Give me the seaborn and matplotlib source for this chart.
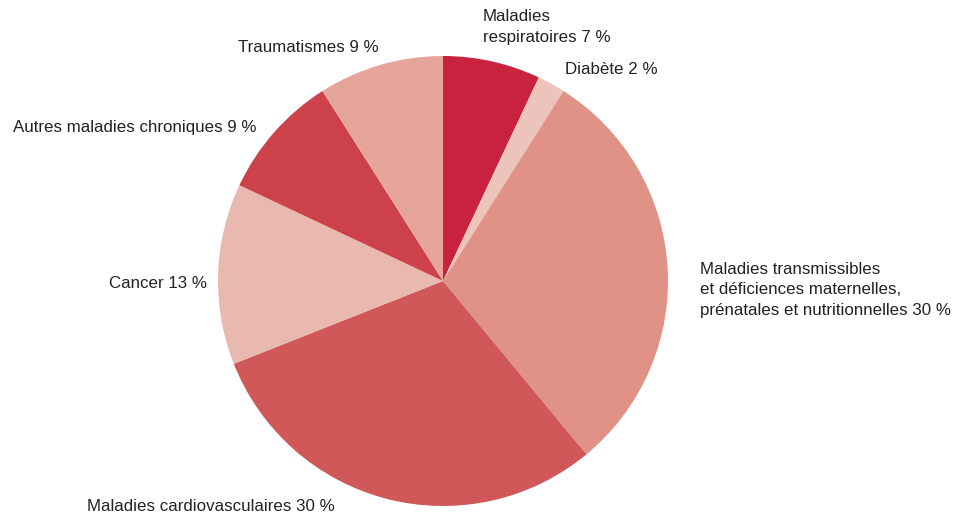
import matplotlib
matplotlib.use("Agg")
import matplotlib.pyplot as plt
import seaborn as sns

# Causes of death, share in percent (clockwise from the top)
categories = [
    "Maladies\nrespiratoires",
    "Diabète",
    "Maladies transmissibles\net déficiences maternelles,\nprénatales et nutritionnelles",
    "Maladies cardiovasculaires",
    "Cancer",
    "Autres maladies chroniques",
    "Traumatismes",
]
shares = [7, 2, 30, 30, 13, 9, 9]
colors = ["#C8223F", "#EDC4BC", "#E09286", "#D05858", "#E9B8AE", "#CD414B", "#E6A59A"]

# label anchor (in pie-radius units) and horizontal alignment
label_pos = [(0.178, 1.129), (0.542, 0.942), (1.142, -0.04), (-1.582, -1.004),
             (-1.049, -0.009), (-0.827, 0.684), (-0.284, 1.036)]
label_ha = ["left", "left", "left", "left", "right", "right", "right"]

sns.set_theme(style="white")
plt.rcParams["font.family"] = ["Liberation Sans", "DejaVu Sans"]

fig = plt.figure(figsize=(9.63, 5.18), dpi=100)
ax = fig.add_axes([0, 0, 1, 1])
ax.pie(shares, colors=colors, startangle=90, counterclock=False,
       radius=1.0, wedgeprops=dict(linewidth=0))

for cat, val, (x, y), ha in zip(categories, shares, label_pos, label_ha):
    ax.text(x, y, f"{cat} {val} %", ha=ha, va="center", fontsize=12.2,
            color="#222222", linespacing=1.45)

ax.set_xlim(-443 / 225, 520 / 225)
ax.set_ylim(-237 / 225, 281 / 225)
ax.set_aspect("equal")
ax.axis("off")
fig.savefig("out.png", dpi=100)
